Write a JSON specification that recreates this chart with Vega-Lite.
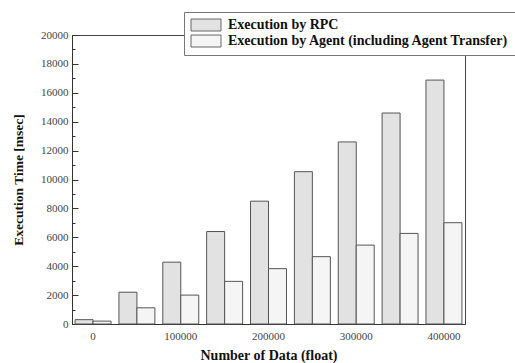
{
  "$schema": "https://vega.github.io/schema/vega-lite/v6.json",
  "width": 393,
  "height": 289,
  "autosize": {"type": "none"},
  "padding": {"left": 72, "top": 35, "right": 50, "bottom": 39},
  "background": "white",
  "config": {
    "view": {"stroke": "#444", "strokeWidth": 1},
    "font": "Liberation Serif, Times New Roman, serif"
  },
  "data": {
    "values": [
      {"n": 0, "series": "Execution by RPC", "time": 300},
      {"n": 0, "series": "Execution by Agent (including Agent Transfer)", "time": 200},
      {"n": 50000, "series": "Execution by RPC", "time": 2200},
      {"n": 50000, "series": "Execution by Agent (including Agent Transfer)", "time": 1120},
      {"n": 100000, "series": "Execution by RPC", "time": 4280},
      {"n": 100000, "series": "Execution by Agent (including Agent Transfer)", "time": 2000},
      {"n": 150000, "series": "Execution by RPC", "time": 6400},
      {"n": 150000, "series": "Execution by Agent (including Agent Transfer)", "time": 2950},
      {"n": 200000, "series": "Execution by RPC", "time": 8500},
      {"n": 200000, "series": "Execution by Agent (including Agent Transfer)", "time": 3830},
      {"n": 250000, "series": "Execution by RPC", "time": 10540},
      {"n": 250000, "series": "Execution by Agent (including Agent Transfer)", "time": 4660},
      {"n": 300000, "series": "Execution by RPC", "time": 12600},
      {"n": 300000, "series": "Execution by Agent (including Agent Transfer)", "time": 5460},
      {"n": 350000, "series": "Execution by RPC", "time": 14600},
      {"n": 350000, "series": "Execution by Agent (including Agent Transfer)", "time": 6270},
      {"n": 400000, "series": "Execution by RPC", "time": 16880},
      {"n": 400000, "series": "Execution by Agent (including Agent Transfer)", "time": 7010}
    ]
  },
  "mark": {"type": "bar", "stroke": "#555", "strokeWidth": 1},
  "encoding": {
    "x": {
      "field": "n",
      "type": "ordinal",
      "scale": {"paddingInner": 0.18, "paddingOuter": 0.07},
      "axis": {
        "title": "Number of Data (float)",
        "titleFontSize": 14,
        "titleFontWeight": "bold",
        "titleColor": "#111",
        "titlePadding": 7,
        "labelAngle": 0,
        "labelExpr": "datum.value % 100000 === 0 ? datum.label : ''",
        "labelFontSize": 11,
        "labelColor": "#444",
        "labelPadding": 6,
        "ticks": false,
        "domainColor": "#333"
      }
    },
    "xOffset": {
      "field": "series",
      "type": "nominal",
      "sort": ["Execution by RPC", "Execution by Agent (including Agent Transfer)"],
      "scale": {"paddingInner": 0, "paddingOuter": 0}
    },
    "y": {
      "field": "time",
      "type": "quantitative",
      "scale": {"domain": [0, 20000], "nice": false},
      "axis": {
        "title": "Execution Time [msec]",
        "titleFontSize": 13.5,
        "titleFontWeight": "bold",
        "titleColor": "#111",
        "titlePadding": 15,
        "values": [0,1000,2000,3000,4000,5000,6000,7000,8000,9000,10000,11000,12000,13000,14000,15000,16000,17000,18000,19000,20000],
        "labelExpr": "datum.value % 2000 === 0 ? datum.label : ''",
        "format": "d",
        "labelFontSize": 11,
        "labelColor": "#444",
        "labelPadding": 10,
        "tickSize": {"condition": {"test": "datum.value % 2000 === 0", "value": -6}, "value": -3},
        "tickColor": "#333",
        "domainColor": "#333",
        "grid": false
      }
    },
    "fill": {
      "field": "series",
      "type": "nominal",
      "sort": ["Execution by RPC", "Execution by Agent (including Agent Transfer)"],
      "scale": {"range": ["#e2e2e2", "#f5f5f5"]},
      "legend": {
        "title": null,
        "orient": "none",
        "legendX": 112,
        "legendY": -23,
        "fillColor": "white",
        "strokeColor": "#777",
        "padding": 6,
        "rowPadding": 0,
        "symbolType": "M-1,-1H4V1H-1Z",
        "symbolSize": 144,
        "symbolStrokeColor": "#666",
        "symbolStrokeWidth": 1,
        "labelFontSize": 14,
        "labelFontWeight": "bold",
        "labelColor": "#111",
        "labelOffset": 24,
        "labelLimit": 400
      }
    }
  }
}
